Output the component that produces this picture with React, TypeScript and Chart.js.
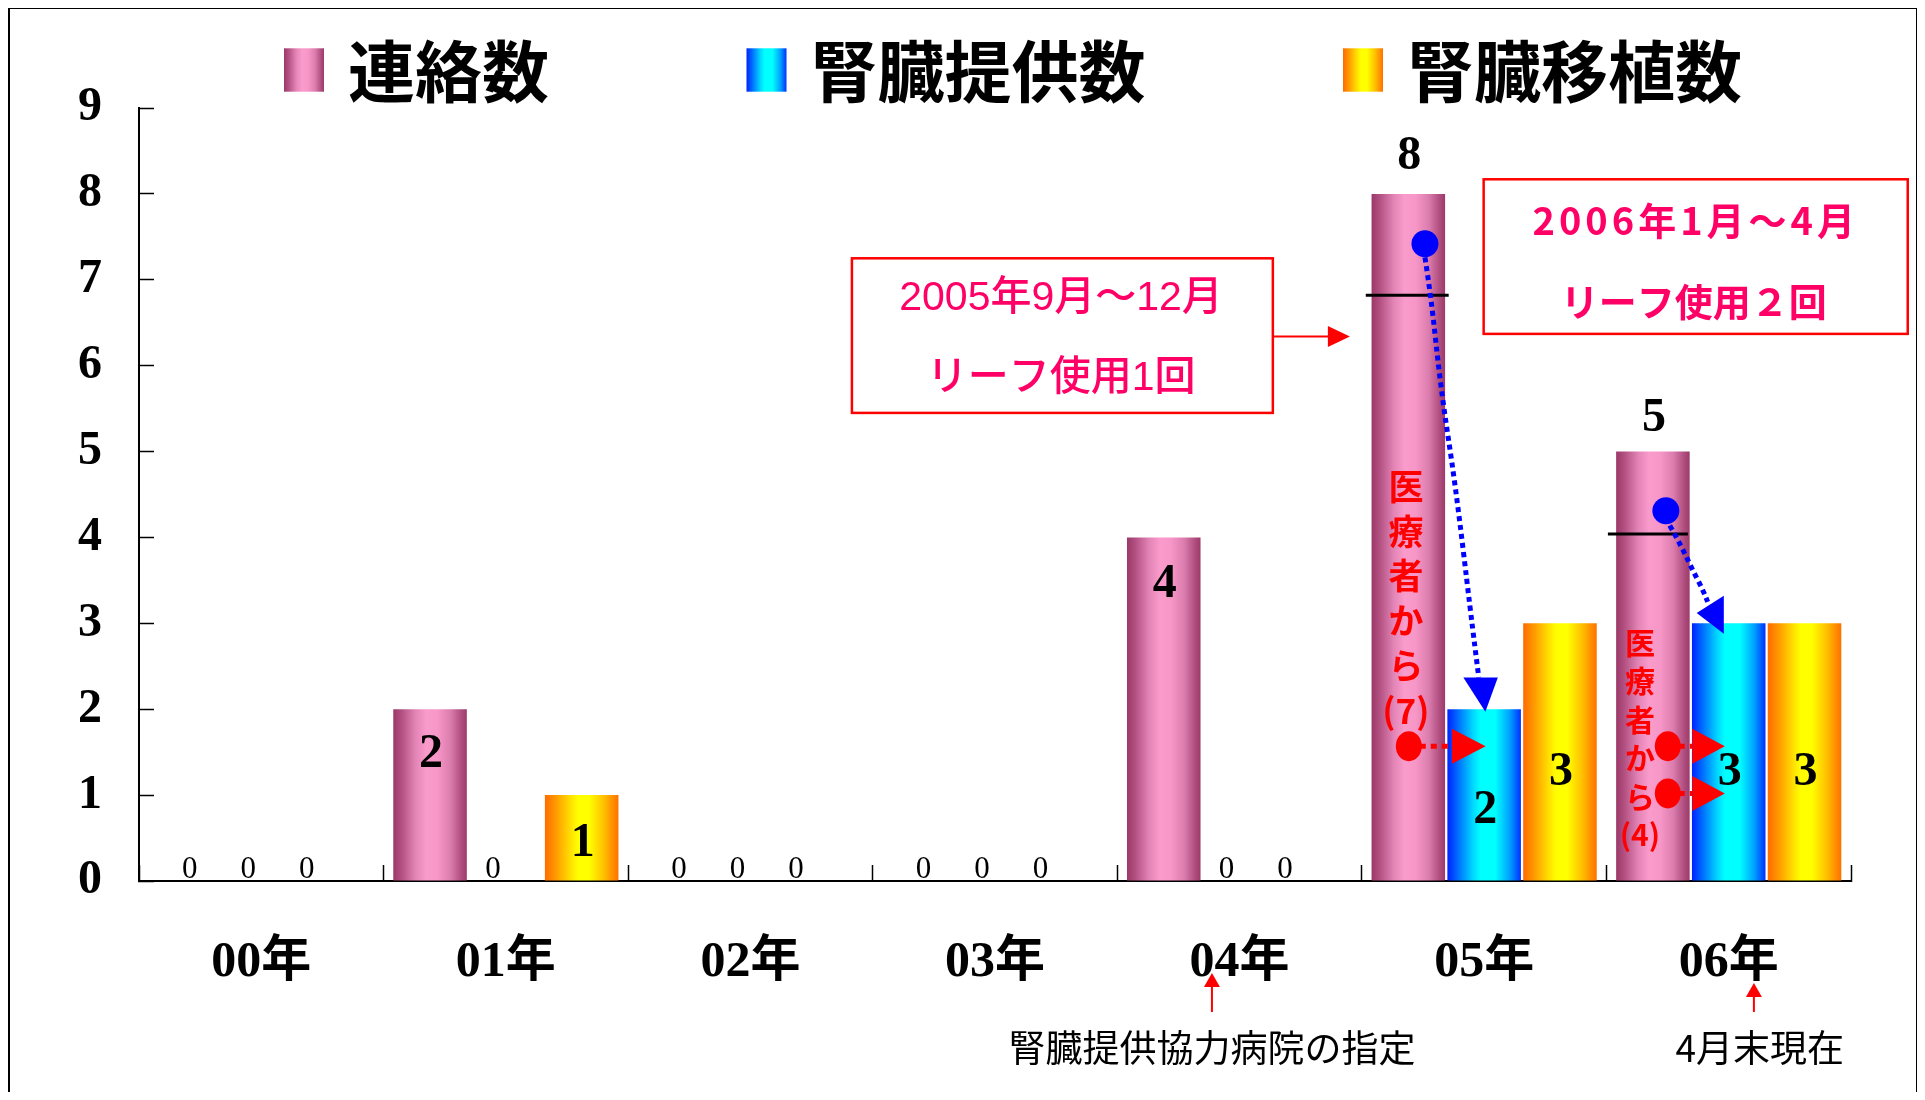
import React, { useEffect, useRef } from "react";
import { Chart, registerables } from "chart.js";

Chart.register(...registerables);

// ---------------- data ----------------
const categories = ["00年", "01年", "02年", "03年", "04年", "05年", "06年"];
const seriesNames = ["連絡数", "腎臓提供数", "腎臓移植数"];
const contacts = [0, 2, 0, 0, 4, 8, 5];
const donations = [0, 0, 0, 0, 0, 2, 3];
const transplants = [0, 1, 0, 0, 0, 3, 3];
const yMin = 0;
const yMax = 9;
const yStep = 1;

// ---------------- layout / style ----------------
const SERIF = "'Liberation Serif', 'Times New Roman', 'Noto Sans CJK JP', serif";
const GOTHIC = "'Noto Sans CJK JP', sans-serif";
const SANS = "'Liberation Sans', 'Noto Sans CJK JP', sans-serif";
const CAT_PCT = 0.93;
const BAR_PCT = 0.97;
const CANVAS_W = 1906;
const CANVAS_H = 1083;

const STOPS: [number, string][][] = [
  [[0, "#9b3868"], [0.12, "#b45283"], [0.3, "#e384b6"], [0.45, "#f99bcb"], [0.6, "#f797c8"], [0.78, "#da7cad"], [0.92, "#b14f80"], [1, "#9c3a69"]],
  [[0, "#0022ff"], [0.15, "#0070ff"], [0.35, "#00d8ff"], [0.45, "#00ffff"], [0.65, "#00ffff"], [0.85, "#00a0ff"], [1, "#0030ff"]],
  [[0, "#ff6a00"], [0.15, "#ff9a00"], [0.35, "#ffe000"], [0.45, "#ffff00"], [0.6, "#ffff00"], [0.8, "#ffc000"], [1, "#ff7000"]],
];
const SOLID = ["#e07fb0", "#00c0ff", "#ffc000"];

// annotation anchors (u = category units, v = value units)
const VALUE_LABEL_Y: Record<string, number> = {
  "0:1": 1.47, "0:4": 3.45, "0:5": 8.43, "0:6": 5.38,
  "1:5": 0.82, "1:6": 1.26,
  "2:1": 0.44, "2:5": 1.26, "2:6": 1.26,
};
const SPLITS = [
  { u0: 4.516, u1: 4.855, v: 6.82 },
  { u0: 5.506, u1: 5.833, v: 4.04 },
];
const VTEXTS = [
  { u: 4.68, v: 4.59, pitch: 44.7, size: 35, chars: ["医", "療", "者", "か", "ら", "(7)"] },
  { u: 5.637, v: 2.78, pitch: 38.5, size: 30, chars: ["医", "療", "者", "か", "ら", "(4)"] },
];
const BLUE_ARROWS = [
  {
    dot: [4.758, 7.42],
    path: [[4.758, 7.26], [4.782, 6.83], [4.823, 5.73], [4.884, 4.58], [4.945, 3.12], [4.978, 2.37]],
    head: [[4.915, 2.37], [5.056, 2.37], [5.005, 1.97]],
  },
  {
    dot: [5.743, 4.31],
    path: [[5.759, 4.14], [5.808, 3.89], [5.849, 3.64], [5.894, 3.39], [5.914, 3.25]],
    head: [[5.869, 3.12], [5.98, 3.32], [5.98, 2.88]],
  },
];
const RED_ARROWS = [
  { u: 4.692, v: 1.57, base: 4.868, tip: 5.006 },
  { u: 5.751, v: 1.57, base: 5.851, tip: 5.984 },
  { u: 5.751, v: 1.02, base: 5.851, tip: 5.984 },
];
const BOXES = [
  {
    u0: 2.415, u1: 4.136, v0: 7.25, v1: 5.45, cu: 3.27,
    lines: [{ text: "2005年9月～12月", v: 6.78, spacing: 0 }, { text: "リーフ使用1回", v: 5.85, spacing: 0 }],
    font: `500 41px ${SANS}`,
    arrow: { u0: 4.136, u1: 4.451, v: 6.34 } as null | { u0: number; u1: number; v: number },
  },
  {
    u0: 4.998, u1: 6.732, v0: 8.17, v1: 6.37, cu: 5.857,
    lines: [{ text: "2006年1月～4月", v: 7.69, spacing: 4 }, { text: "リーフ使用２回", v: 6.75, spacing: 0 }],
    font: `bold 38px ${GOTHIC}`,
    arrow: null as null | { u0: number; u1: number; v: number },
  },
];
const NOTES = [
  { text: "腎臓提供協力病院の指定", au: 3.887, tu: 3.887, vTop: -1.071 },
  { text: "4月末現在", au: 6.103, tu: 6.127, vTop: -1.187 },
];
const NOTE_ARROW_BOTTOM = -1.525;
const NOTE_TEXT_V = -1.944;

function makeGradient(ctx: CanvasRenderingContext2D, left: number, right: number, stops: [number, string][]) {
  const g = ctx.createLinearGradient(left, 0, right, 0);
  stops.forEach(([o, c]) => g.addColorStop(o, c));
  return g;
}

function barFill(ds: number) {
  return (ctx: any) => {
    const chart = ctx.chart;
    const xs = chart.scales && chart.scales.x;
    if (!xs || ctx.dataIndex === undefined || !chart.chartArea) return SOLID[ds];
    const catW = xs.width / categories.length;
    const group = catW * CAT_PCT;
    const chunk = group / 3;
    const center = xs.getPixelForValue(ctx.dataIndex) - group / 2 + chunk * (ds + 0.5);
    const w = chunk * BAR_PCT;
    return makeGradient(chart.ctx, center - w / 2, center + w / 2, STOPS[ds]);
  };
}

const overlay = {
  id: "overlay",
  afterDatasetsDraw(chart: any) {
    const c: CanvasRenderingContext2D = chart.ctx;
    const xs = chart.scales.x;
    const ys = chart.scales.y;
    const X = (u: number) => xs.getPixelForValue(u);
    const Y = (v: number) => ys.getPixelForValue(v);
    const catW = xs.width / categories.length;
    c.save();

    // split lines on contact bars
    c.strokeStyle = "#000";
    c.lineWidth = 3;
    for (const s of SPLITS) {
      c.beginPath();
      c.moveTo(X(s.u0), Y(s.v));
      c.lineTo(X(s.u1), Y(s.v));
      c.stroke();
    }

    // vertical red texts
    c.fillStyle = "#ff0000";
    c.textAlign = "center";
    c.textBaseline = "middle";
    for (const t of VTEXTS) {
      c.font = `bold ${t.size}px ${GOTHIC}`;
      t.chars.forEach((ch, k) => c.fillText(ch, X(t.u), Y(t.v) + k * t.pitch));
    }

    // blue dotted arrows
    for (const a of BLUE_ARROWS) {
      const pts = a.path.map(([u, v]) => [X(u), Y(v)]);
      c.strokeStyle = "#0000ff";
      c.lineWidth = 5;
      c.setLineDash([5, 4]);
      c.beginPath();
      c.moveTo(pts[0][0], pts[0][1]);
      for (let i = 1; i < pts.length - 1; i++) {
        const mx = (pts[i][0] + pts[i + 1][0]) / 2;
        const my = (pts[i][1] + pts[i + 1][1]) / 2;
        c.quadraticCurveTo(pts[i][0], pts[i][1], mx, my);
      }
      c.lineTo(pts[pts.length - 1][0], pts[pts.length - 1][1]);
      c.stroke();
      c.setLineDash([]);
      c.fillStyle = "#0000ff";
      c.beginPath();
      a.head.forEach(([u, v], i) => (i === 0 ? c.moveTo(X(u), Y(v)) : c.lineTo(X(u), Y(v))));
      c.closePath();
      c.fill();
      c.beginPath();
      c.arc(X(a.dot[0]), Y(a.dot[1]), 13.5, 0, Math.PI * 2);
      c.fill();
    }

    // red dotted arrows
    for (const r of RED_ARROWS) {
      const y = Y(r.v);
      c.strokeStyle = "#ff0000";
      c.lineWidth = 5;
      c.setLineDash([6, 5]);
      c.beginPath();
      c.moveTo(X(r.u), y);
      c.lineTo(X(r.base), y);
      c.stroke();
      c.setLineDash([]);
      c.fillStyle = "#ff0000";
      c.beginPath();
      c.moveTo(X(r.base), y - 17.5);
      c.lineTo(X(r.tip), y);
      c.lineTo(X(r.base), y + 17.5);
      c.closePath();
      c.fill();
      c.beginPath();
      c.ellipse(X(r.u), y, 13, 15, 0, 0, Math.PI * 2);
      c.fill();
    }

    // value labels
    const series = chart.data.datasets;
    series.forEach((ds: any, di: number) => {
      const meta = chart.getDatasetMeta(di);
      ds.data.forEach((val: number, i: number) => {
        if (val === 0) {
          c.fillStyle = "#000";
          c.font = `31px ${SERIF}`;
          c.textAlign = "center";
          c.textBaseline = "alphabetic";
          const x = X(i) + (di - 1) * 0.239 * catW - 0.053 * catW;
          c.fillText("0", x, Y(0) - 3);
        } else {
          const bar = meta.data[i];
          const ly = VALUE_LABEL_Y[`${di}:${i}`];
          c.fillStyle = "#000";
          c.font = `bold 48px ${SERIF}`;
          c.textAlign = "center";
          c.textBaseline = "middle";
          c.fillText(String(val), bar.x + 1, Y(ly === undefined ? val / 2 : ly));
        }
      });
    });

    // boxes
    for (const b of BOXES) {
      c.strokeStyle = "#ff0000";
      c.lineWidth = 2.5;
      c.strokeRect(X(b.u0), Y(b.v0), X(b.u1) - X(b.u0), Y(b.v1) - Y(b.v0));
      c.fillStyle = "#ff0066";
      c.font = b.font;
      c.textAlign = "center";
      c.textBaseline = "middle";
      for (const l of b.lines) {
        (c as any).letterSpacing = `${l.spacing}px`;
        c.fillText(l.text, X(b.cu) + l.spacing / 2, Y(l.v));
      }
      (c as any).letterSpacing = "0px";
      if (b.arrow) {
        const y = Y(b.arrow.v);
        const x1 = X(b.arrow.u1);
        c.strokeStyle = "#ff0000";
        c.lineWidth = 2;
        c.beginPath();
        c.moveTo(X(b.arrow.u0), y);
        c.lineTo(x1 - 20, y);
        c.stroke();
        c.fillStyle = "#ff0000";
        c.beginPath();
        c.moveTo(x1 - 22, y - 10.5);
        c.lineTo(x1, y);
        c.lineTo(x1 - 22, y + 10.5);
        c.closePath();
        c.fill();
      }
    }

    // bottom notes
    for (const n of NOTES) {
      const x = X(n.au);
      c.strokeStyle = "#ff0000";
      c.lineWidth = 2;
      c.beginPath();
      c.moveTo(x, Y(NOTE_ARROW_BOTTOM));
      c.lineTo(x, Y(n.vTop) + 12);
      c.stroke();
      c.fillStyle = "#ff0000";
      c.beginPath();
      c.moveTo(x - 8, Y(n.vTop) + 14);
      c.lineTo(x, Y(n.vTop));
      c.lineTo(x + 8, Y(n.vTop) + 14);
      c.closePath();
      c.fill();
      c.fillStyle = "#000";
      c.font = `37px ${GOTHIC}`;
      c.textAlign = "center";
      c.textBaseline = "middle";
      c.fillText(n.text, X(n.tu), Y(NOTE_TEXT_V));
    }

    // legend
    const swTop = 39.3;
    const swH = 43.4;
    const swW = 40;
    let lx = 274;
    c.font = `bold 67px ${GOTHIC}`;
    c.textAlign = "left";
    c.textBaseline = "middle";
    series.forEach((ds: any, di: number) => {
      c.fillStyle = makeGradient(c, lx, lx + swW, STOPS[di]);
      c.fillRect(lx, swTop, swW, swH);
      const tx = lx + swW + 24;
      c.fillStyle = "#000";
      c.fillText(ds.label, tx, 62.7);
      lx = tx + c.measureText(ds.label).width + 197.5;
    });

    c.restore();
  },
};

export default function App() {
  const ref = useRef<HTMLCanvasElement>(null);
  useEffect(() => {
    const canvas = ref.current;
    if (!canvas) return;
    const chart = new Chart(canvas, {
      type: "bar",
      data: {
        labels: categories,
        datasets: [
          { label: seriesNames[0], data: contacts, backgroundColor: barFill(0), borderWidth: 0 },
          { label: seriesNames[1], data: donations, backgroundColor: barFill(1), borderWidth: 0 },
          { label: seriesNames[2], data: transplants, backgroundColor: barFill(2), borderWidth: 0 },
        ],
      },
      options: {
        responsive: false,
        animation: false,
        events: [],
        datasets: { bar: { categoryPercentage: CAT_PCT, barPercentage: BAR_PCT } },
        layout: { padding: { left: 0, right: 65, top: 99, bottom: 0 } },
        plugins: {
          legend: { display: false },
          tooltip: { enabled: false },
          title: { display: false },
        },
        scales: {
          x: {
            grid: {
              display: true,
              offset: true,
              drawOnChartArea: false,
              drawTicks: true,
              tickLength: -16,
              tickColor: "#000",
              tickWidth: 1.5,
            },
            border: { display: true, color: "#000", width: 2 },
            ticks: {
              color: "#000",
              font: { family: SERIF, size: 50, weight: "bold" },
              padding: 68,
              maxRotation: 0,
              autoSkip: false,
            },
            afterFit: (s: any) => {
              s.height = CANVAS_H - 872;
            },
          },
          y: {
            min: yMin,
            max: yMax,
            grid: {
              display: true,
              drawOnChartArea: false,
              drawTicks: true,
              tickLength: -15,
              tickColor: "#000",
              tickWidth: 1.5,
            },
            border: { display: true, color: "#000", width: 2 },
            ticks: {
              stepSize: yStep,
              color: "#000",
              font: { family: SERIF, size: 48, weight: "bold" },
              padding: 52,
            },
            afterFit: (s: any) => {
              s.width = 129;
            },
          },
        },
      } as any,
      plugins: [overlay],
    });
    return () => chart.destroy();
  }, []);

  return (
    <div
      style={{
        boxSizing: "border-box",
        width: 1911,
        height: CANVAS_H + 1,
        borderTop: "1px solid #000",
        borderLeft: "2px solid #000",
        borderRight: "3px solid #000",
        background: "#fff",
        overflow: "hidden",
      }}
    >
      <canvas
        ref={ref}
        width={CANVAS_W}
        height={CANVAS_H}
        style={{ display: "block", width: CANVAS_W, height: CANVAS_H }}
      />
    </div>
  );
}
